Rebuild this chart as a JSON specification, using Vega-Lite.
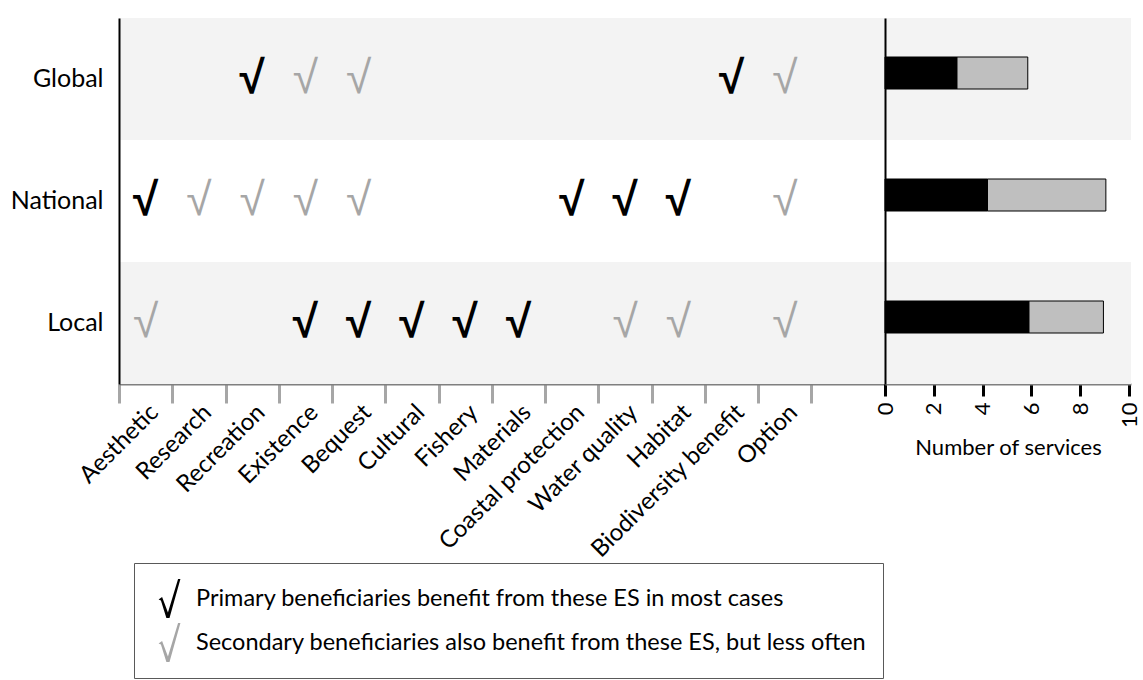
{
  "$schema": "https://vega.github.io/schema/vega-lite/v6.json",
  "padding": {"left": 10, "top": 18, "right": 0, "bottom": 0},
  "bounds": "flush",
  "background": "white",
  "config": {
    "view": {"stroke": null},
    "font": "Lato",
    "axis": {"labelFont": "Lato", "titleFont": "Lato", "labelColor": "black", "titleColor": "black", "grid": false}
  },
  "datasets": {
    "levels": [{"level": "Global"}, {"level": "National"}, {"level": "Local"}],
    "checks": [
      {"level": "Global", "service": "Recreation", "role": "Primary"},
      {"level": "Global", "service": "Existence", "role": "Secondary"},
      {"level": "Global", "service": "Bequest", "role": "Secondary"},
      {"level": "Global", "service": "Biodiversity benefit", "role": "Primary"},
      {"level": "Global", "service": "Option", "role": "Secondary"},
      {"level": "National", "service": "Aesthetic", "role": "Primary"},
      {"level": "National", "service": "Research", "role": "Secondary"},
      {"level": "National", "service": "Recreation", "role": "Secondary"},
      {"level": "National", "service": "Existence", "role": "Secondary"},
      {"level": "National", "service": "Bequest", "role": "Secondary"},
      {"level": "National", "service": "Coastal protection", "role": "Primary"},
      {"level": "National", "service": "Water quality", "role": "Primary"},
      {"level": "National", "service": "Habitat", "role": "Primary"},
      {"level": "National", "service": "Option", "role": "Secondary"},
      {"level": "Local", "service": "Aesthetic", "role": "Secondary"},
      {"level": "Local", "service": "Existence", "role": "Primary"},
      {"level": "Local", "service": "Bequest", "role": "Primary"},
      {"level": "Local", "service": "Cultural", "role": "Primary"},
      {"level": "Local", "service": "Fishery", "role": "Primary"},
      {"level": "Local", "service": "Materials", "role": "Primary"},
      {"level": "Local", "service": "Water quality", "role": "Secondary"},
      {"level": "Local", "service": "Habitat", "role": "Secondary"},
      {"level": "Local", "service": "Option", "role": "Secondary"}
    ],
    "counts": [
      {"level": "Global", "role": "Primary", "count": 2.95},
      {"level": "Global", "role": "Secondary", "count": 2.9},
      {"level": "National", "role": "Primary", "count": 4.2},
      {"level": "National", "role": "Secondary", "count": 4.85},
      {"level": "Local", "role": "Primary", "count": 5.9},
      {"level": "Local", "role": "Secondary", "count": 3.05}
    ]
  },
  "spacing": 0,
  "hconcat": [
    {
      "width": 766,
      "height": 366,
      "layer": [
        {
          "data": {"name": "levels"},
          "mark": {"type": "rect"},
          "encoding": {
            "y": {
              "field": "level", "type": "nominal",
              "scale": {"domain": ["Global", "National", "Local"], "paddingInner": 0, "paddingOuter": 0},
              "axis": {"title": null, "ticks": false, "domainColor": "black", "domainWidth": 2, "labelFontSize": 25, "labelPadding": 16}
            },
            "fill": {"condition": {"test": "datum.level === 'National'", "value": "white"}, "value": "#f3f3f3"}
          }
        },
        {
          "data": {"name": "checks"},
          "transform": [{"filter": "datum.role === 'Primary'"}],
          "mark": {"type": "text", "text": "√", "font": "Liberation Sans", "fontSize": 46, "fontWeight": "bold", "baseline": "middle", "align": "center"},
          "encoding": {
            "x": {
              "field": "service", "type": "nominal",
              "scale": {"domain": ["Aesthetic", "Research", "Recreation", "Existence", "Bequest", "Cultural", "Fishery", "Materials", "Coastal protection", "Water quality", "Habitat", "Biodiversity benefit", "Option"], "paddingInner": 0, "paddingOuter": 0.69, "align": 0},
              "axis": {"title": null, "tickBand": "extent", "tickColor": "#a6a6a6", "tickWidth": 3, "tickSize": 19, "domainColor": "#7f7f7f", "domainWidth": 2, "labelAngle": -45, "labelFontSize": 24, "labelPadding": -3, "labelLimit": 400, "encode": {"ticks": {"update": {"y": {"value": -9}, "y2": {"value": 19}}}}}
            },
            "y": {"field": "level", "type": "nominal"},
            "color": {
              "field": "role", "type": "nominal",
              "scale": {"domain": ["Primary", "Secondary"], "range": ["black", "#a6a6a6"]},
              "legend": {
                "title": null, "orient": "none", "legendX": 15, "legendY": 545, "direction": "vertical",
                "symbolType": "M-0.56,0.05L-0.38,-0.08L-0.08,0.72L0.44,-1L0.56,-1L0,1L-0.16,1L-0.44,0.1Z",
                "symbolSize": 1521, "symbolStrokeWidth": 0,
                "labelFontSize": 23.5, "labelFont": "Lato", "labelColor": "black", "labelLimit": 900, "labelOffset": 7,
                "rowPadding": 5, "padding": 16, "strokeColor": "#595959", "fillColor": "white",
                "labelExpr": "datum.value === 'Primary' ? 'Primary beneficiaries benefit from these ES in most cases' : 'Secondary beneficiaries also benefit from these ES, but less often'"
              }
            }
          }
        },
        {
          "data": {"name": "checks"},
          "transform": [{"filter": "datum.role === 'Secondary'"}],
          "mark": {"type": "text", "text": "√", "font": "Liberation Sans", "fontSize": 46, "fontWeight": "normal", "baseline": "middle", "align": "center"},
          "encoding": {
            "x": {
              "field": "service", "type": "nominal",
              "axis": {"title": null, "tickBand": "extent", "tickColor": "#a6a6a6", "tickWidth": 3, "tickSize": 19, "domainColor": "#7f7f7f", "domainWidth": 2, "labelAngle": -45, "labelFontSize": 24, "labelPadding": -3, "labelLimit": 400, "encode": {"ticks": {"update": {"y": {"value": -9}, "y2": {"value": 19}}}}}
            },
            "y": {"field": "level", "type": "nominal"},
            "color": {"field": "role", "type": "nominal"}
          }
        }
      ]
    },
    {
      "width": 246,
      "height": 366,
      "layer": [
        {
          "data": {"name": "levels"},
          "mark": {"type": "rect"},
          "encoding": {
            "y": {
              "field": "level", "type": "nominal",
              "scale": {"domain": ["Global", "National", "Local"], "paddingInner": 0, "paddingOuter": 0},
              "axis": {"title": null, "labels": false, "ticks": false, "domainColor": "black", "domainWidth": 2, "minExtent": 0, "maxExtent": 0}
            },
            "fill": {"condition": {"test": "datum.level === 'National'", "value": "white"}, "value": "#f3f3f3"}
          }
        },
        {
          "data": {"name": "counts"},
          "mark": {"type": "bar", "size": 32, "stroke": "black", "strokeWidth": 1, "yOffset": -6},
          "encoding": {
            "y": {"field": "level", "type": "nominal"},
            "x": {
              "field": "count", "type": "quantitative", "stack": "zero",
              "scale": {"domain": [0, 10.08], "nice": false},
              "axis": {"title": "Number of services", "values": [0, 2, 4, 6, 8, 10], "labelAngle": -90, "labelAlign": "right", "labelBaseline": "middle", "labelFontSize": 22, "labelPadding": 6, "tickColor": "black", "tickWidth": 3, "tickSize": 12, "domainColor": "#7f7f7f", "domainWidth": 2, "titleFontSize": 22, "titleFontWeight": "normal", "titlePadding": 10, "encode": {"ticks": {"update": {"y": {"value": -9}, "y2": {"value": 12}}}}}
            },
            "fill": {
              "field": "role", "type": "nominal",
              "scale": {"domain": ["Primary", "Secondary"], "range": ["black", "#bfbfbf"]},
              "legend": null
            },
            "order": {"field": "role"}
          }
        }
      ]
    }
  ]
}
